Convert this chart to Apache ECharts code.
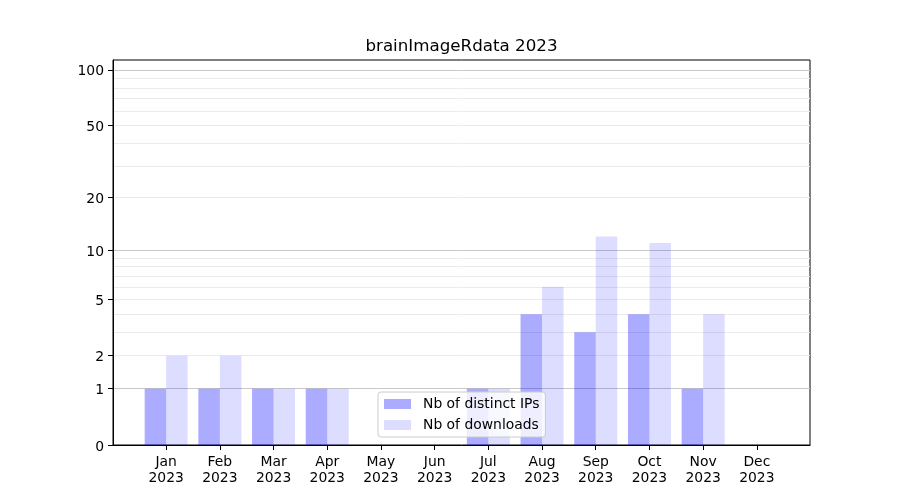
<!DOCTYPE html>
<html>
<head>
<meta charset="utf-8">
<script src="https://cdn.jsdelivr.net/npm/echarts@6/dist/echarts.min.js"></script>
<style>html,body{margin:0;padding:0;background:#fff;}#c{width:900px;height:500px;}</style>
</head>
<body>
<div id="c"></div>
<script>
const months = ['Jan','Feb','Mar','Apr','May','Jun','Jul','Aug','Sep','Oct','Nov','Dec'];
const yearLabel = '2023';
const distinctIPs = [1,1,1,1,0,0,1,4,3,4,1,0];
const downloads = [2,2,1,1,0,0,1,6,12,11,4,0];
const yTickLabels = [0,1,2,5,10,20,50,100];
const majorGrid = [1,10,100];
const minorGrid = [2,3,4,5,6,7,8,9,20,30,40,50,60,70,80,90];
const yMaxValue = 113;

const t = v => Math.log10(1 + v);
const yMax = t(yMaxValue);
const font = 'DejaVu Sans';
const monthIdx = months.map((m, i) => i);

const hiddenY = (vals, color) => ({
  type: 'value', min: 0, max: yMax, position: 'left', offset: 0,
  axisLine: {show: false, onZero: false}, axisLabel: {show: false},
  axisTick: {show: false, customValues: vals.map(t)},
  splitLine: {show: true, lineStyle: {color: color, width: 1}}
});

const option = {
  animation: false,
  backgroundColor: '#fff',
  title: {
    text: 'brainImageRdata ' + yearLabel,
    left: 461.5, top: 38, textAlign: 'center',
    padding: 0,
    textStyle: {fontFamily: font, fontSize: 16.7, fontWeight: 'normal', color: '#000'}
  },
  legend: {
    orient: 'vertical', left: 378, top: 392,
    padding: [5, 6, 5, 6], itemGap: 7,
    itemWidth: 27, itemHeight: 10,
    backgroundColor: 'rgba(255,255,255,0.8)',
    borderColor: '#cccccc', borderWidth: 1, borderRadius: 3,
    icon: 'rect',
    textStyle: {fontFamily: font, fontSize: 13.9, color: '#000', lineHeight: 14, padding: [0, 0, 0, 7]},
    data: ['Nb of distinct IPs', 'Nb of downloads']
  },
  grid: {left: 113, right: 90, top: 60, bottom: 55, show: true, borderColor: '#000', borderWidth: 1, backgroundColor: 'transparent'},
  xAxis: {
    type: 'value', min: -0.99, max: 11.99,
    axisLine: {show: true, onZero: false, lineStyle: {color: '#000', width: 1}},
    axisTick: {show: true, length: 5, customValues: monthIdx, lineStyle: {color: '#000'}},
    axisLabel: {
      customValues: monthIdx, margin: 9,
      fontFamily: font, fontSize: 13.9, color: '#000', lineHeight: 16,
      formatter: v => months[Math.round(v)] + '\n' + yearLabel
    },
    splitLine: {show: false}
  },
  yAxis: [
    {
      type: 'value', min: 0, max: yMax, position: 'left',
      axisLine: {show: true, onZero: false, lineStyle: {color: '#000', width: 1}},
      axisTick: {show: true, length: 5, customValues: yTickLabels.map(t), lineStyle: {color: '#000'}},
      axisLabel: {
        customValues: yTickLabels.map(t), margin: 9,
        fontFamily: font, fontSize: 13.9, color: '#000',
        formatter: v => '{a|' + String(Math.round(Math.pow(10, v) - 1)) + '}',
        rich: {a: {fontFamily: font, fontSize: 13.9, color: '#000', padding: [4, 0, 0, 0]}}
      },
      splitLine: {show: false}
    },
    hiddenY(minorGrid, '#ebebeb'),
    hiddenY(majorGrid, '#c8c8c8')
  ],
  series: [
    {
      name: 'Nb of distinct IPs', type: 'bar', yAxisIndex: 0,
      barWidth: 21.5, barGap: '0%',
      itemStyle: {color: 'rgba(0,0,255,0.33)'},
      data: monthIdx.map(i => [i, t(distinctIPs[i])])
    },
    {
      name: 'Nb of downloads', type: 'bar', yAxisIndex: 0,
      barWidth: 21.5, barGap: '0%',
      itemStyle: {color: 'rgba(0,0,255,0.135)'},
      data: monthIdx.map(i => [i, t(downloads[i])])
    }
  ]
};
echarts.init(document.getElementById('c')).setOption(option);
</script>
</body>
</html>
